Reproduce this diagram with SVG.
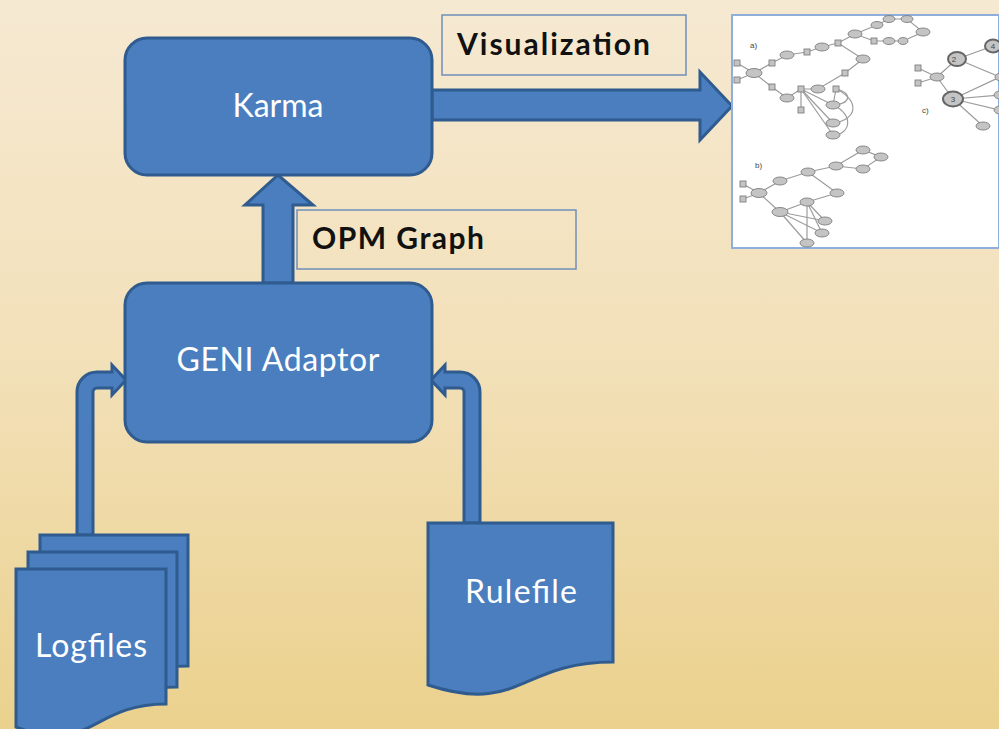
<svg xmlns="http://www.w3.org/2000/svg" width="999" height="729" viewBox="0 0 999 729">
<defs>
<linearGradient id="bg" x1="0" y1="0" x2="0" y2="1">
<stop offset="0" stop-color="#f6e9d2"/>
<stop offset="0.5" stop-color="#f2e0b8"/>
<stop offset="1" stop-color="#ebd18d"/>
</linearGradient>
<clipPath id="imgclip"><rect x="732" y="15" width="267" height="233"/></clipPath>
<style>
.box{fill:#4a7ebe;stroke:#2f5b8f;stroke-width:3}
.wt{fill:#ffffff;font-family:Lato,"Open Sans","Liberation Sans",sans-serif;font-size:32px;text-anchor:middle}
.lbl{fill:none;stroke:#6f8fb9;stroke-width:1.5}
.bt{fill:#111111;font-family:Lato,"Open Sans","Liberation Sans",sans-serif;font-size:30px;font-weight:bold}
.e{fill:#c4c4c4;stroke:#7e7e7e;stroke-width:0.9}
.g{stroke:#9c9c9c;stroke-width:1.2;fill:none}
.sm{fill:#444;font-family:"Liberation Sans",sans-serif;font-size:8px}
</style>
</defs>
<rect x="0" y="0" width="999" height="729" fill="url(#bg)"/>

<g id="connectors">
<path class="box" d="M263,283 L263,205 L245,205 L278,175 L313,205 L293,205 L293,283 Z"/>
<path class="box" d="M432,90 L700,90 L700,72 L732,106 L700,140 L700,120 L432,120 Z"/>
<path class="box" d="M77,535 L77,392 A20,20 0 0 1 97,372 L112,372 L112,365 L126,380 L112,395 L112,388 L97,388 A4,4 0 0 0 93,392 L93,535 Z"/>
<path class="box" d="M480,523 L480,392 A20,20 0 0 0 460,372 L445,372 L445,365 L431,380 L445,395 L445,388 L460,388 A4,4 0 0 1 464,392 L464,523 Z"/>
</g>

<g id="karma">
<rect class="box" x="125" y="38" width="307" height="137" rx="22" ry="22"/>
<text class="wt" x="278" y="117">Karma</text>
</g>

<g id="geni-adaptor">
<rect class="box" x="125" y="283" width="307" height="159" rx="22" ry="22"/>
<text class="wt" x="278" y="371" textLength="203">GENI Adaptor</text>
</g>

<g id="opm-graph-label">
<rect class="lbl" x="297" y="210" width="279" height="59"/>
<text class="bt" x="312" y="249" textLength="172">OPM Graph</text>
</g>

<g id="visualization-label">
<rect class="lbl" x="442" y="15" width="244" height="60"/>
<text class="bt" x="457" y="55" textLength="193">Visualization</text>
</g>

<g id="logfiles">
<path class="box" d="M40,535 L188,535 L188,666 C114,666 114,718 40,689 Z"/>
<path class="box" d="M28,552 L177,552 L177,687 C102,687 102,739 28,710 Z"/>
<path class="box" d="M16,569 L166,569 L166,704 C91,704 91,756 16,727 Z"/>
<text class="wt" x="91" y="657" textLength="112">Logfiles</text>
</g>

<g id="rulefile">
<path class="box" d="M428,523 L613,523 L613,662 C520,662 520,715 428,685 Z"/>
<text class="wt" x="521" y="603" textLength="112">Rulefile</text>
</g>

<g id="visualization-image">
<rect x="732" y="15" width="267" height="233" fill="#ffffff" stroke="#8eaedb" stroke-width="2"/>
<g clip-path="url(#imgclip)">
<g class="g">
<polyline points="737,63 754,73 772,63 787,55 807,52 822,47 838,43 855,34 877,25 889,19 907,19 923,32 903,41 889,41 874,41 855,34"/>
<line x1="737" y1="80" x2="754" y2="73"/>
<polyline points="838,43 863,59 845,73 818,89 801,89"/>
<polyline points="754,73 772,87 787,98 801,89"/>
<line x1="801" y1="89" x2="833" y2="105"/>
<line x1="801" y1="89" x2="833" y2="123"/>
<line x1="801" y1="89" x2="833" y2="135"/>
<line x1="801" y1="89" x2="801" y2="110"/>
<line x1="836" y1="89" x2="833" y2="105"/>
<path d="M836,89 C852,92 852,104 833,105"/>
<path d="M836,89 C860,100 858,120 833,123"/>
<path d="M833,105 C855,115 850,135 833,135"/>
<polyline points="918,68 937,77 957,59 993,46"/>
<line x1="918" y1="83" x2="937" y2="77"/>
<line x1="937" y1="77" x2="953" y2="99"/>
<line x1="1000" y1="77" x2="957" y2="59"/>
<line x1="1000" y1="77" x2="953" y2="99"/>
<line x1="1000" y1="95" x2="953" y2="99"/>
<line x1="1000" y1="110" x2="953" y2="99"/>
<line x1="983" y1="126" x2="953" y2="99"/>
<polyline points="743,184 759,193 780,181 808,172 836,166 863,150 881,157 863,169 836,166"/>
<line x1="743" y1="199" x2="759" y2="193"/>
<polyline points="808,172 837,193 807,202 780,212 759,193"/>
<line x1="780" y1="212" x2="825" y2="221"/>
<line x1="780" y1="212" x2="822" y2="233"/>
<line x1="780" y1="212" x2="807" y2="243"/>
<line x1="807" y1="202" x2="825" y2="221"/>
<line x1="807" y1="202" x2="822" y2="233"/>
<line x1="807" y1="202" x2="807" y2="243"/>
</g>
<g>
<ellipse class="e" cx="877" cy="25" rx="6" ry="3.5"/>
<ellipse class="e" cx="889" cy="19" rx="6" ry="3.5"/>
<ellipse class="e" cx="907" cy="19" rx="6" ry="3.5"/>
<ellipse class="e" cx="923" cy="32" rx="7" ry="4"/>
<ellipse class="e" cx="903" cy="41" rx="5" ry="3.5"/>
<ellipse class="e" cx="889" cy="41" rx="6" ry="3.5"/>
<rect class="e" x="871" y="38" width="6" height="6"/>
<ellipse class="e" cx="855" cy="34" rx="7" ry="4"/>
<rect class="e" x="835" y="40" width="6" height="6"/>
<ellipse class="e" cx="822" cy="47" rx="7" ry="4"/>
<rect class="e" x="804" y="49" width="6" height="6"/>
<ellipse class="e" cx="787" cy="55" rx="7" ry="4"/>
<rect class="e" x="769" y="60" width="6" height="6"/>
<ellipse class="e" cx="754" cy="73" rx="8" ry="4.5"/>
<rect class="e" x="734" y="60" width="6" height="6"/>
<rect class="e" x="734" y="77" width="6" height="6"/>
<rect class="e" x="769" y="84" width="6" height="6"/>
<ellipse class="e" cx="787" cy="98" rx="7" ry="4"/>
<rect class="e" x="798" y="86" width="6" height="6"/>
<ellipse class="e" cx="818" cy="89" rx="7" ry="4"/>
<rect class="e" x="833" y="86" width="6" height="6"/>
<ellipse class="e" cx="833" cy="105" rx="7" ry="4"/>
<rect class="e" x="798" y="107" width="6" height="6"/>
<ellipse class="e" cx="833" cy="123" rx="7" ry="4"/>
<ellipse class="e" cx="833" cy="135" rx="7" ry="4"/>
<rect class="e" x="842" y="70" width="6" height="6"/>
<ellipse class="e" cx="863" cy="59" rx="7" ry="4"/>
<rect class="e" x="915" y="65" width="6" height="6"/>
<rect class="e" x="915" y="80" width="6" height="6"/>
<ellipse class="e" cx="937" cy="77" rx="7" ry="4"/>
<ellipse cx="957" cy="59" rx="9" ry="7" fill="#c4c4c4" stroke="#666" stroke-width="2"/>
<ellipse cx="993" cy="46" rx="8" ry="6.5" fill="#c4c4c4" stroke="#666" stroke-width="2"/>
<ellipse cx="953" cy="99" rx="10" ry="7.5" fill="#c4c4c4" stroke="#666" stroke-width="2"/>
<ellipse class="e" cx="1001" cy="77" rx="6" ry="4"/>
<ellipse class="e" cx="1000" cy="95" rx="6" ry="4"/>
<ellipse class="e" cx="1000" cy="110" rx="6" ry="4"/>
<ellipse class="e" cx="983" cy="126" rx="7" ry="4"/>
<ellipse class="e" cx="863" cy="150" rx="7" ry="4"/>
<ellipse class="e" cx="881" cy="157" rx="7" ry="4"/>
<ellipse class="e" cx="863" cy="169" rx="7" ry="4"/>
<ellipse class="e" cx="836" cy="166" rx="7" ry="4"/>
<ellipse class="e" cx="808" cy="172" rx="7" ry="4"/>
<ellipse class="e" cx="780" cy="181" rx="7" ry="4"/>
<ellipse class="e" cx="759" cy="193" rx="8" ry="4.5"/>
<rect class="e" x="740" y="181" width="6" height="6"/>
<rect class="e" x="740" y="196" width="6" height="6"/>
<ellipse class="e" cx="837" cy="193" rx="7" ry="4"/>
<ellipse class="e" cx="807" cy="202" rx="7" ry="4"/>
<ellipse class="e" cx="780" cy="212" rx="8" ry="4.5"/>
<ellipse class="e" cx="825" cy="221" rx="7" ry="4"/>
<ellipse class="e" cx="822" cy="233" rx="7" ry="4"/>
<ellipse class="e" cx="807" cy="243" rx="7" ry="4"/>
</g>
<text class="sm" x="750" y="48">a)</text>
<text class="sm" x="755" y="168">b)</text>
<text class="sm" x="922" y="113">c)</text>
<text class="sm" x="954" y="62" text-anchor="middle">2</text>
<text class="sm" x="993" y="49" text-anchor="middle">4</text>
<text class="sm" x="953" y="102" text-anchor="middle">3</text>
</g>
</g>
</svg>
